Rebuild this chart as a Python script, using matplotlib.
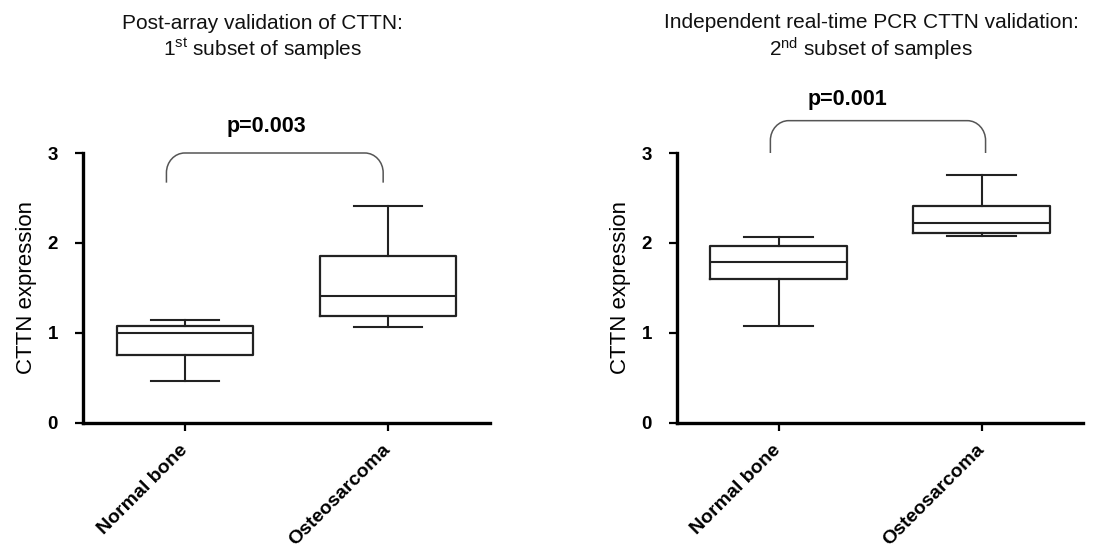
import matplotlib
matplotlib.use("Agg")
import matplotlib.pyplot as plt
from matplotlib.path import Path
from matplotlib.patches import PathPatch

plt.rcParams['font.family'] = ['Liberation Sans', 'DejaVu Sans']
plt.rcParams['mathtext.fontset'] = 'custom'
plt.rcParams['mathtext.rm'] = 'Liberation Sans'
plt.rcParams['mathtext.it'] = 'Liberation Sans:italic'
plt.rcParams['mathtext.bf'] = 'Liberation Sans:bold'

# ---- data ----
categories = ["Normal bone", "Osteosarcoma"]
stat_keys = ["whislo", "q1", "med", "q3", "whishi"]
subset1_normal = [0.46, 0.75, 0.995, 1.07, 1.145]
subset1_osteo = [1.063, 1.19, 1.41, 1.855, 2.41]
subset2_normal = [1.077, 1.60, 1.785, 1.97, 2.065]
subset2_osteo = [2.08, 2.11, 2.22, 2.405, 2.755]
yticks = [0, 1, 2, 3]
pvalues = ["p=0.003", "p=0.001"]
titles = ["Post-array validation of CTTN:\n1$^{\\mathrm{st}}$ subset of samples",
          "Independent real-time PCR CTTN validation:\n2$^{\\mathrm{nd}}$ subset of samples"]
ylabel = "CTTN expression"

W, H = 1120, 553
fig = plt.figure(figsize=(W / 100, H / 100), dpi=100)

axes_px = [(83, 490), (677, 1083)]
bottom_px, top_px = 422.5, 153
panels = [(subset1_normal, subset1_osteo), (subset2_normal, subset2_osteo)]
brackets = [(-0.09, 0.975, 2.67, 3.0), (-0.04, 1.02, 3.0, 3.36)]
ptext_pos = [(0.40, 3.29), (0.34, 3.59)]
title_x = [262, 871]


def bracket_path(x0, x1, yb, yt, rx, ry):
    k = 0.5523
    verts = [(x0, yb), (x0, yt - ry),
             (x0, yt - ry + k * ry), (x0 + rx - k * rx, yt), (x0 + rx, yt),
             (x1 - rx, yt),
             (x1 - rx + k * rx, yt), (x1, yt - ry + k * ry), (x1, yt - ry),
             (x1, yb)]
    codes = [Path.MOVETO, Path.LINETO,
             Path.CURVE4, Path.CURVE4, Path.CURVE4,
             Path.LINETO,
             Path.CURVE4, Path.CURVE4, Path.CURVE4,
             Path.LINETO]
    return Path(verts, codes)


for i, (left, right) in enumerate(axes_px):
    ax = fig.add_axes([left / W, 1 - bottom_px / H, (right - left) / W,
                       (bottom_px - top_px) / H])
    a, b = panels[i]
    stats = []
    for vals, lab in zip((a, b), categories):
        d = dict(zip(stat_keys, vals))
        d["label"] = lab
        d["fliers"] = []
        stats.append(d)
    lc = "#222222"
    ax.bxp(stats, positions=[0, 1], widths=0.67, showfliers=False,
           boxprops=dict(color=lc, linewidth=1.6),
           medianprops=dict(color=lc, linewidth=1.5),
           whiskerprops=dict(color=lc, linewidth=1.5),
           capprops=dict(color=lc, linewidth=1.5))
    ax.set_xlim(-0.5, 1.5)
    ax.set_ylim(0, 3)
    ax.set_yticks(yticks)
    ax.set_yticklabels([str(t) for t in yticks], fontweight="bold", fontsize=13.5)
    ax.set_xticks([0, 1])
    ax.set_xticklabels(categories, fontweight="bold", fontsize=14,
                       rotation=45, ha="right", va="center",
                       rotation_mode="anchor")
    ax.tick_params(axis="x", length=6, width=1.6, pad=12)
    ax.tick_params(axis="y", length=6, width=1.6, pad=12)
    for s in ("top", "right"):
        ax.spines[s].set_visible(False)
    for s in ("left", "bottom"):
        ax.spines[s].set_linewidth(2.4)
    ax.set_ylabel(ylabel, fontsize=16, labelpad=8)

    x0, x1, yb, yt = brackets[i]
    pp = PathPatch(bracket_path(x0, x1, yb, yt, 0.09, 0.22), fill=False,
                   edgecolor="#555555", linewidth=1.1, clip_on=False)
    ax.add_patch(pp)
    px, py = ptext_pos[i]
    ax.text(px, py, pvalues[i], ha="center", va="center", fontsize=15.5,
            fontweight="bold", clip_on=False)

    fig.text(title_x[i] / W, 1 - 38 / H, titles[i], ha="center", va="center",
             fontsize=15, linespacing=1.2, color="#111111")

fig.savefig("out.png", dpi=100)
